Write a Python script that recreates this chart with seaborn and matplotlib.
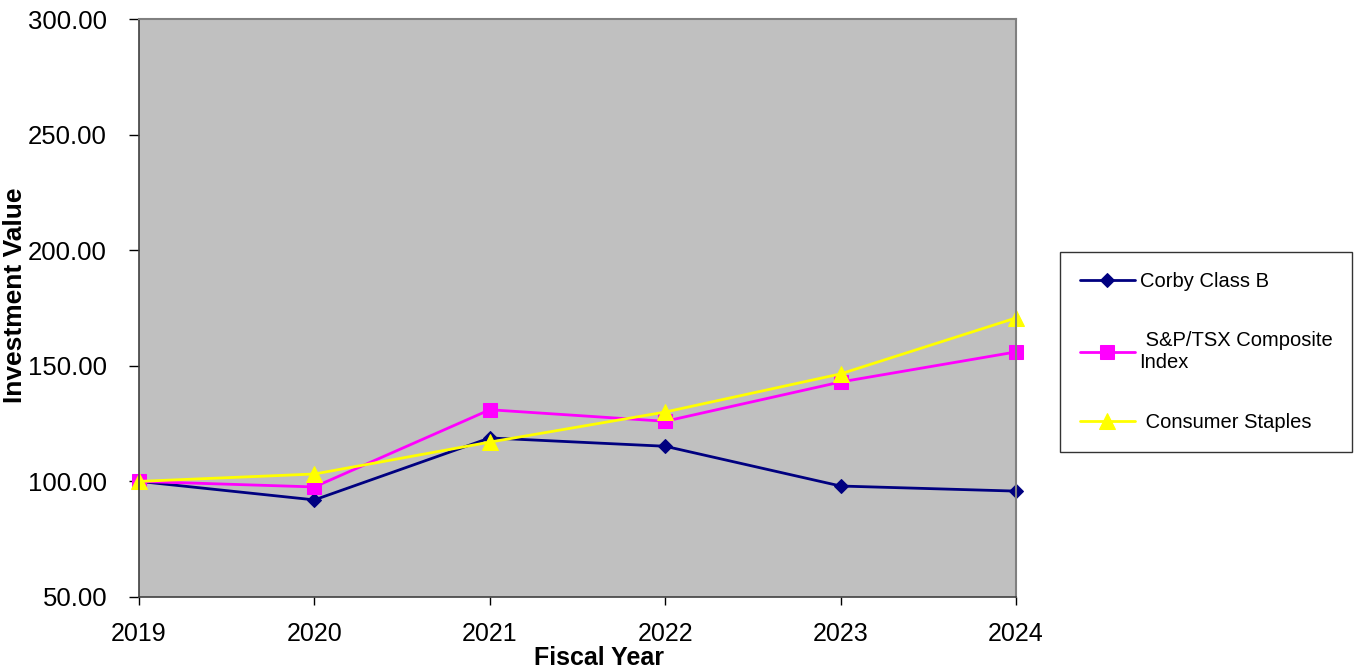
import matplotlib
matplotlib.use("Agg")
import matplotlib.pyplot as plt
import seaborn as sns
import pandas as pd

years = [2019, 2020, 2021, 2022, 2023, 2024]
corby = [100.0, 92.0, 118.8, 115.2, 98.0, 95.8]
sptsx = [100.0, 97.6, 131.0, 126.0, 143.0, 156.0]
staples = [100.0, 103.2, 117.0, 130.0, 146.5, 170.7]
series_names = ["Corby Class B", " S&P/TSX Composite\nIndex", " Consumer Staples"]
y_ticks = [50, 100, 150, 200, 250, 300]

df = pd.DataFrame({
    "Year": years * 3,
    "Value": corby + sptsx + staples,
    "Series": [series_names[0]] * 6 + [series_names[1]] * 6 + [series_names[2]] * 6,
})

sns.set_style("white")
plt.rcParams["font.family"] = ["Liberation Sans", "DejaVu Sans"]
plt.rcParams["text.color"] = "black"
plt.rcParams["axes.labelcolor"] = "black"
plt.rcParams["xtick.color"] = "black"
plt.rcParams["ytick.color"] = "black"

fig = plt.figure(figsize=(13.59, 6.71), dpi=100)
ax = fig.add_axes([139 / 1359, 1 - 597 / 671, (1016 - 139) / 1359, (597 - 19) / 671])
ax.set_facecolor("#C0C0C0")

palette = {series_names[0]: "#000080", series_names[1]: "#FF00FF", series_names[2]: "#FFFF00"}
markers = {series_names[0]: "D", series_names[1]: "s", series_names[2]: "^"}
sizes_map = {series_names[0]: 7, series_names[1]: 10, series_names[2]: 11}

sns.lineplot(data=df, x="Year", y="Value", hue="Series", style="Series",
             palette=palette, markers=markers, dashes=False, linewidth=2,
             ax=ax, legend=True)

for line, name in zip(ax.get_lines()[:3], series_names):
    line.set_clip_on(False)
    c = line.get_color()
    line.set_markeredgecolor(c)
    line.set_markerfacecolor(c)
    line.set_markersize(sizes_map[name])

ax.set_xlim(2019, 2024)
ax.set_ylim(50, 300)
ax.set_xticks(years)
ax.set_xticklabels([str(y) for y in years], fontsize=18)
ax.set_yticks(y_ticks)
ax.set_yticklabels([f"{v:.2f}" for v in y_ticks], fontsize=18.5)
ax.tick_params(axis="y", direction="out", length=7, width=1, colors="black", pad=16)
ax.tick_params(axis="x", direction="out", length=6, width=1, colors="black", pad=12)
ax.tick_params(left=True, bottom=True)

for s in ["left", "bottom"]:
    ax.spines[s].set_color("#404040")
    ax.spines[s].set_linewidth(1.2)
for s in ["top", "right"]:
    ax.spines[s].set_color("#808080")
    ax.spines[s].set_linewidth(1.5)

ax.set_xlabel("Fiscal Year", fontsize=18, fontweight="bold", color="black")
ax.set_ylabel("Investment Value", fontsize=19, fontweight="bold", color="black")
ax.xaxis.set_label_coords(0.524, -0.084)
ax.yaxis.set_label_coords(-0.128, 0.522)

handles, labels = ax.get_legend_handles_labels()
for h, name in zip(handles, labels):
    h.set_markersize(sizes_map.get(name, 8))
    h.set_markeredgecolor(h.get_color())
    h.set_markerfacecolor(h.get_color())
ax.legend_.remove()
leg = fig.legend(handles, labels, loc="upper left",
                 bbox_to_anchor=(1060 / 1359, 1 - 252 / 671),
                 fontsize=14.5, frameon=True, fancybox=False, edgecolor="black",
                 labelspacing=2.0, handlelength=2.7, handletextpad=0.25,
                 borderpad=1.0, borderaxespad=0)
leg.get_frame().set_linewidth(1.0)
for t in leg.get_texts():
    t.set_color("black")

fig.savefig("out.png", dpi=100)
